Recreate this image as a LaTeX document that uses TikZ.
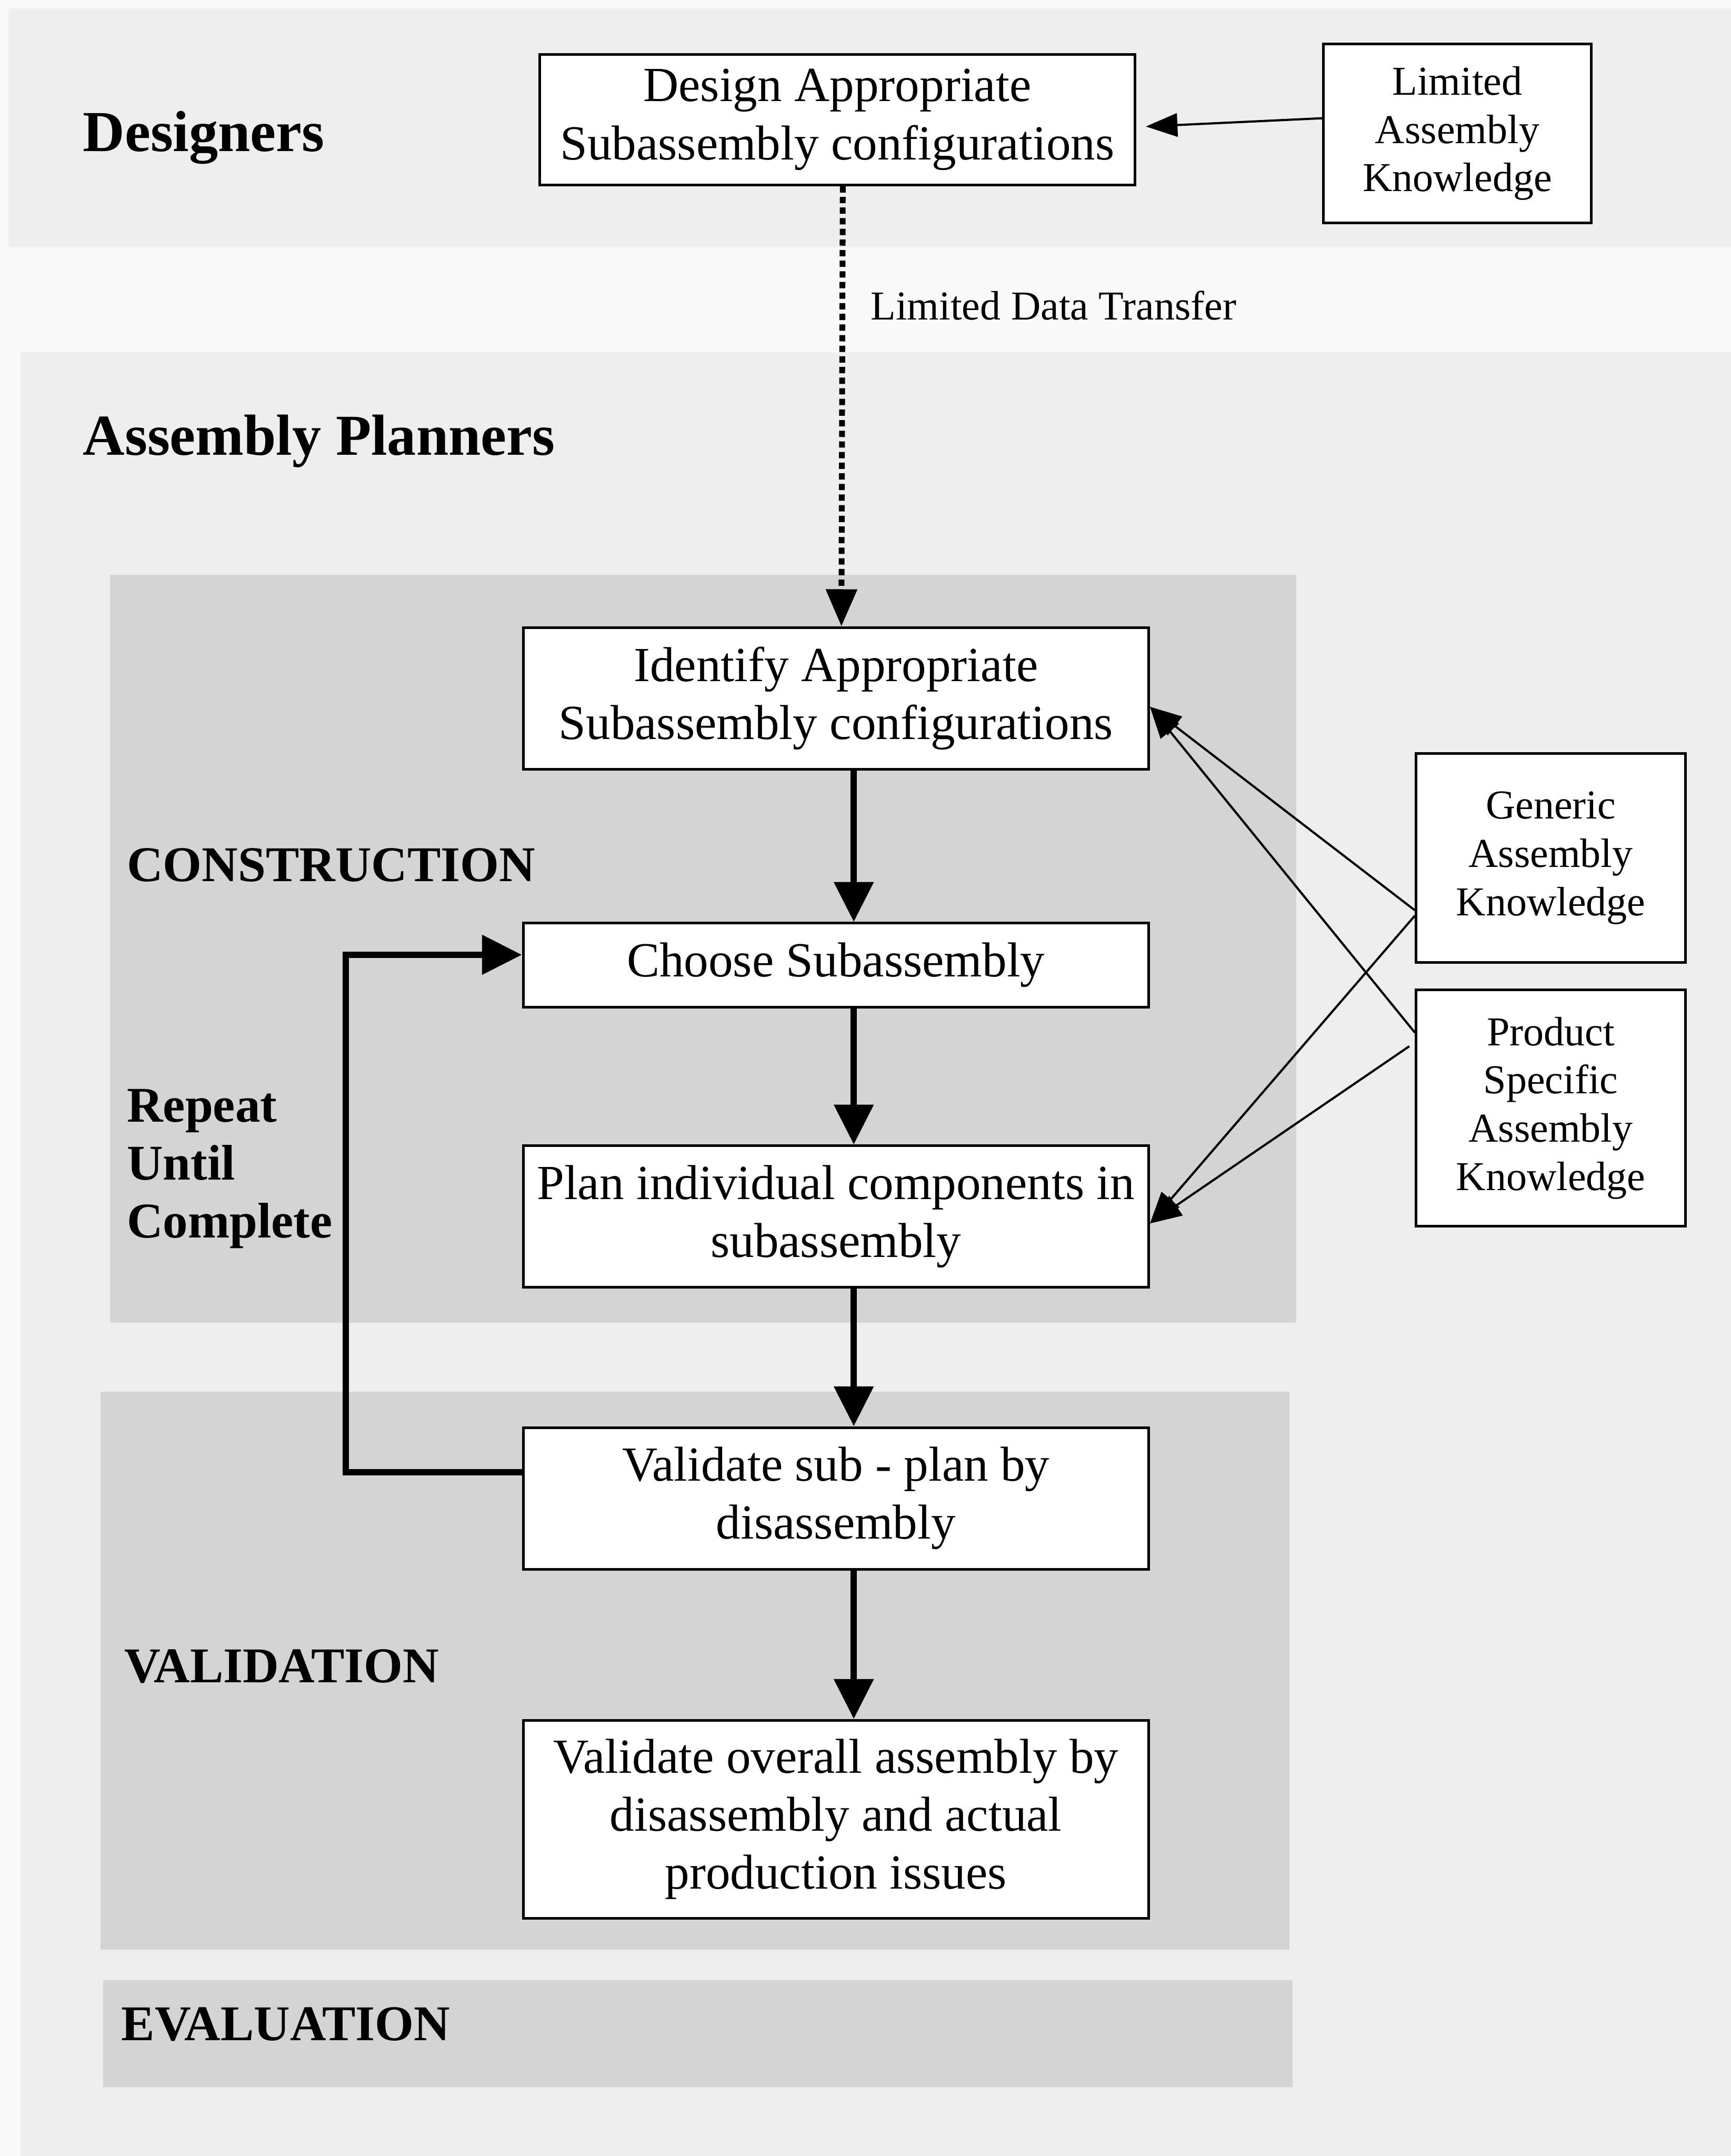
\documentclass[tikz,border=0pt]{standalone}
\usepackage{fontspec}
\setmainfont{Liberation Serif}
\usepackage{tikz}
\usetikzlibrary{positioning, arrows.meta}
\definecolor{pagebg}{gray}{0.975}
\definecolor{laneband}{gray}{0.935}
\definecolor{phaseband}{gray}{0.83}
\newcommand{\taskfont}{\fontsize{20.3}{24}\selectfont}
\newcommand{\knowfont}{\fontsize{17}{20}\selectfont}
\newcommand{\lanefont}{\fontsize{24}{28}\selectfont\bfseries}
\newcommand{\phasefont}{\fontsize{20.7}{24}\selectfont\bfseries}
\tikzstyle{task}      = [rectangle, minimum width=9.1cm, minimum height=2.06cm, text centered, align=center, draw=black, line width=1.1pt, fill=white, font=\taskfont]
\tikzstyle{knowledge} = [rectangle, minimum width=3.92cm, text centered, align=center, draw=black, line width=1.1pt, fill=white, font=\knowfont]
\tikzstyle{lane}      = [anchor=west, inner sep=0pt, font=\lanefont]
\tikzstyle{phase}     = [anchor=west, inner sep=0pt, align=left, font=\phasefont]
\tikzstyle{flow}      = [-{Triangle[length=5.8mm, width=5.6mm]}, line width=2.6pt]
\tikzstyle{feed}      = [-{Triangle[length=4.6mm, width=3.4mm]}, line width=0.9pt]
\tikzstyle{transfer}  = [-{Triangle[length=5.4mm, width=4.4mm]}, line width=2.4pt, dash pattern=on 2.6pt off 1.8pt]

\begin{document}
\begin{tikzpicture}[x=0.02cm, y=-0.02cm]
            \fill[pagebg]    (0,0)     rectangle (1259,1568);
            \fill[laneband]  (6,6)     rectangle (1259,180);
            \fill[laneband]  (15,256)  rectangle (1259,1568);
            \fill[phaseband] (80,418)  rectangle (943,962);
            \fill[phaseband] (73,1012) rectangle (938,1418);
            \fill[phaseband] (75,1440) rectangle (940,1518);
            \useasboundingbox (0,0) rectangle (1259,1568);

            \node[lane]  (designers)    at (60,100)  {Designers};
            \node[lane]  (planners)     at (60,321)  {Assembly Planners};
            \node[phase] (construction) at (92,629)  {CONSTRUCTION};
            \node[phase] (repeat)       at (92,850)  {Repeat\\Until\\Complete};
            \node[phase] (validation)   at (90,1212) {VALIDATION};
            \node[phase] (evaluation)   at (88,1472) {EVALUATION};

            \node[task, minimum width=8.66cm, minimum height=1.9cm] (design) at (609,87) {Design Appropriate\\Subassembly configurations};
            \node[knowledge, minimum width=3.9cm, minimum height=2.6cm] (limited) at (1060,97) {Limited\\Assembly\\Knowledge};
            \node[anchor=west, inner sep=0pt, font=\knowfont] (transferlabel) at (633,222) {Limited Data Transfer};

            \node[task] (identify) at (608,508) {Identify Appropriate\\Subassembly configurations};
            \node[task, minimum height=1.22cm] (choose)  [below=2.2cm of identify] {Choose Subassembly};
            \node[task]                        (plan)    [below=1.98cm of choose ] {Plan individual components in\\subassembly};
            \node[task]                        (validsub)[below=2cm of plan      ] {Validate sub - plan by\\disassembly};
            \node[task, minimum height=2.88cm] (overall) [below=2.16cm of validsub] {Validate overall assembly by\\disassembly and actual\\production issues};

            \node[knowledge, minimum height=3.04cm] (generic) at (1128,624) {Generic\\Assembly\\Knowledge};
            \node[knowledge, minimum height=3.44cm] (product) [below=0.36cm of generic] {Product\\Specific\\Assembly\\Knowledge};

            \draw[feed] ([yshift=0.22cm]limited.west) -- ([xshift=0.14cm, yshift=-0.1cm]design.east);
            \draw[transfer] ([xshift=0.08cm]design.south) -- ([xshift=0.08cm]identify.north);

            \draw[flow] ([xshift=0.26cm]identify.south) -- ([xshift=0.26cm]choose.north);
            \draw[flow] ([xshift=0.26cm]choose.south)   -- ([xshift=0.26cm]plan.north);
            \draw[flow] ([xshift=0.26cm]plan.south)     -- ([xshift=0.26cm]validsub.north);
            \draw[flow] ([xshift=0.26cm]validsub.south) -- ([xshift=0.26cm]overall.north);
            \draw[flow] ([yshift=0.38cm]validsub.west) -- ++(-2.56cm,0) |- ([yshift=0.15cm]choose.west);

            \draw[feed] ([yshift=-0.76cm]generic.west) -- ([yshift=-0.12cm]identify.east);
            \draw[feed] ([yshift=1.1cm]product.west)   -- ([yshift=-0.12cm]identify.east);
            \draw[feed] ([yshift=-0.84cm]generic.west) -- ([yshift=-0.1cm]plan.east);
            \draw[feed] ([xshift=-0.08cm, yshift=0.9cm]product.west) -- ([yshift=-0.1cm]plan.east);
        \end{tikzpicture}
\end{document}
